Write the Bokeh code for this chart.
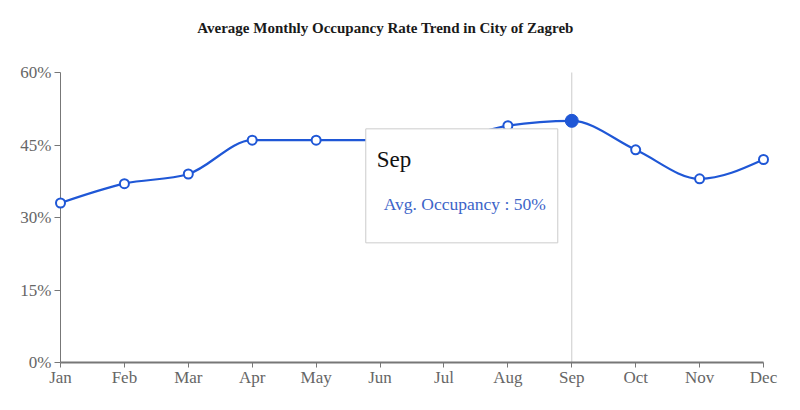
import numpy as np
from bokeh.plotting import figure
from bokeh.models import Range1d, FixedTicker, PrintfTickFormatter, BoxAnnotation, Label
from bokeh.embed import file_html
from bokeh.resources import INLINE

# ---- data ----
months = ["Jan", "Feb", "Mar", "Apr", "May", "Jun", "Jul", "Aug", "Sep", "Oct", "Nov", "Dec"]
occupancy = [33, 37, 39, 46, 46, 46, 46, 49, 50, 44, 38, 42]
y_ticks = [0, 15, 30, 45, 60]
hover_month = "Sep"
series_name = "Avg. Occupancy"
title_text = "Average Monthly Occupancy Rate Trend in City of Zagreb"

BLUE = "#1f57d6"
AXIS = "#777777"
FONT = "Liberation Serif"

x = np.arange(len(months), dtype=float)
y = np.array(occupancy, dtype=float)


def monotone_tangents(xs, ys):
    n = len(xs)
    t = np.zeros(n)
    for i in range(1, n - 1):
        h0 = xs[i] - xs[i - 1]
        h1 = xs[i + 1] - xs[i]
        s0 = (ys[i] - ys[i - 1]) / h0
        s1 = (ys[i + 1] - ys[i]) / h1
        p = (s0 * h1 + s1 * h0) / (h0 + h1)
        t[i] = (np.sign(s0) + np.sign(s1)) * min(abs(s0), abs(s1), 0.5 * abs(p))
    t[0] = (3 * (ys[1] - ys[0]) / (xs[1] - xs[0]) - t[1]) / 2
    t[-1] = (3 * (ys[-1] - ys[-2]) / (xs[-1] - xs[-2]) - t[-2]) / 2
    return t


t = monotone_tangents(x, y)
dx = (x[1:] - x[:-1]) / 3.0
x0, y0, x1, y1 = x[:-1], y[:-1], x[1:], y[1:]
cx0, cy0 = x0 + dx, y0 + dx * t[:-1]
cx1, cy1 = x1 - dx, y1 - dx * t[1:]

W, H = 784, 394
ML, MR, MB = 54, 15, 32
TOP_PX = 72          # space above the 60% line (holds the title)
PAD_PX = 6           # horizontal room so the end markers are not cut
frame_w = W - ML - MR
frame_h = H - MB
n_span = len(months) - 1
px_x = (frame_w - 2 * PAD_PX) / n_span
pad = PAD_PX / px_x
px_y = (frame_h - TOP_PX) / (y_ticks[-1] - y_ticks[0])
y_top = y_ticks[-1] + TOP_PX / px_y

p = figure(width=W, height=H, output_backend="svg", toolbar_location=None,
           x_range=Range1d(x[0] - pad, x[-1] + pad), y_range=Range1d(y_ticks[0], y_top),
           min_border_left=ML, min_border_right=MR, min_border_top=0, min_border_bottom=MB)
p.title = None
p.outline_line_color = None
p.grid.visible = False
p.background_fill_color = "white"
p.border_fill_color = "white"

# title, centred a little left of the frame centre like the original
TITLE_CENTER_PX = 385
p.add_layout(Label(x=(TITLE_CENTER_PX - ML - PAD_PX) / px_x, y=y_ticks[-1], y_offset=45,
                   text=title_text, text_align="center", text_baseline="middle",
                   text_font=FONT, text_font_style="bold", text_font_size="15px",
                   text_color="#1a1a1a"))

# axes
p.xaxis.ticker = FixedTicker(ticks=list(x))
p.xaxis.major_label_overrides = {i: m for i, m in enumerate(months)}
p.xaxis.bounds = (x[0], x[-1])
p.yaxis.ticker = FixedTicker(ticks=y_ticks)
p.yaxis.formatter = PrintfTickFormatter(format="%d%%")
for ax in (p.xaxis, p.yaxis):
    ax.minor_tick_line_color = None
    ax.major_label_text_font = FONT
    ax.major_label_text_font_size = "17px"
    ax.major_label_text_color = "#666666"
    ax.axis_line_color = AXIS
    ax.major_tick_line_color = AXIS
p.xaxis.major_tick_in = 0
p.xaxis.major_tick_out = 5
p.xaxis.axis_line_width = 2
p.xaxis.major_label_standoff = 0
# y axis line sits on the first category; ticks reach from the frame edge to it
p.yaxis.axis_line_color = None
p.yaxis.major_tick_in = PAD_PX
p.yaxis.major_tick_out = 0
p.yaxis.major_label_standoff = 3
p.segment(x0=[x[0]], y0=[y_ticks[0]], x1=[x[0]], y1=[y_ticks[-1]], line_color=AXIS, line_width=1)

# crosshair
hi = months.index(hover_month)
p.segment(x0=[x[hi]], y0=[y_ticks[0]], x1=[x[hi]], y1=[y_ticks[-1]], line_color="#cccccc", line_width=1)

# smooth line
p.bezier(x0=x0, y0=y0, x1=x1, y1=y1, cx0=cx0, cy0=cy0, cx1=cx1, cy1=cy1,
         line_color=BLUE, line_width=2.2)
p.scatter(x, y, size=9, marker="circle", fill_color="white", line_color=BLUE, line_width=2)
p.scatter([x[hi]], [y[hi]], size=13, marker="circle", fill_color=BLUE, line_color=BLUE)

# tooltip (positioned in pixels relative to the hovered point)
box = BoxAnnotation(left=x[hi] - 206 / px_x, right=x[hi] - 14 / px_x,
                    top=y[hi] - 8 / px_y, bottom=y[hi] - 122 / px_y,
                    fill_color="white", fill_alpha=1.0, line_color="#cccccc", line_width=1,
                    line_alpha=1.0)
p.add_layout(box)
p.add_layout(Label(x=x[hi], y=y[hi], x_offset=-195, y_offset=-39, text=hover_month,
                   text_font=FONT, text_font_size="23px", text_color="#111111",
                   text_baseline="alphabetic"))
p.add_layout(Label(x=x[hi], y=y[hi], x_offset=-188, y_offset=-83,
                   text=f"{series_name} : {occupancy[hi]}%",
                   text_font=FONT, text_font_size="17.5px", text_color="#3d64c8",
                   text_baseline="alphabetic"))

open("out.html", "w").write(file_html(p, INLINE))
